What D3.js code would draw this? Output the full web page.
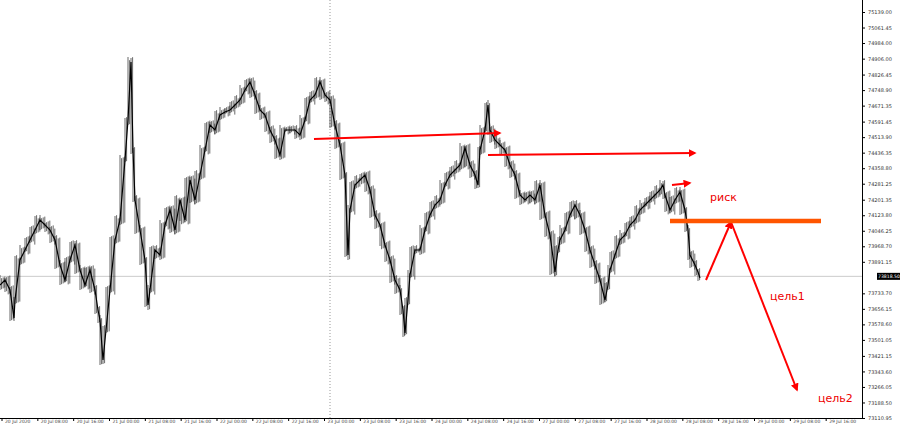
<!DOCTYPE html><html><head><meta charset="utf-8"><script src="https://cdn.jsdelivr.net/npm/d3@7"></script>
<style>body{margin:0;background:#fff}</style></head><body><svg id="c" width="900" height="424"></svg><script>
const pts=[[0,285],[5,280],[10,290],[14,318],[15,300],[20,260],[25,250],[30,240],[35,230],[40,220],[45,225],[50,230],[55,240],[60,265],[65,280],[70,260],[75,245],[80,270],[85,285],[90,270],[95,290],[98,310],[100,320],[103,360],[106,330],[110,290],[115,240],[120,220],[125,160],[128,120],[131,62],[133,150],[135,200],[140,230],[145,260],[148,305],[150,290],[155,250],[160,255],[165,225],[170,210],[175,230],[180,200],[185,220],[190,180],[195,200],[200,175],[205,150],[210,125],[215,130],[220,115],[225,112],[230,110],[235,105],[240,100],[245,90],[250,82],[255,95],[260,110],[265,115],[270,130],[275,140],[280,155],[285,130],[290,130],[295,130],[300,135],[305,120],[310,100],[315,95],[320,82],[325,95],[330,100],[335,125],[340,145],[345,175],[348,255],[350,210],[355,185],[360,180],[365,175],[370,190],[375,215],[380,225],[385,245],[390,260],[395,280],[400,290],[403,310],[405,333],[408,300],[410,275],[415,250],[420,250],[425,230],[430,215],[435,205],[440,200],[445,185],[450,175],[455,170],[460,165],[465,148],[470,165],[475,175],[478,185],[480,150],[485,130],[488,105],[490,130],[495,140],[500,145],[505,150],[510,165],[515,175],[520,195],[525,200],[530,195],[535,200],[540,185],[545,215],[550,235],[555,272],[558,250],[560,240],[565,230],[570,215],[575,205],[580,215],[585,230],[590,250],[595,265],[600,280],[605,300],[608,285],[610,270],[615,255],[620,240],[625,235],[630,225],[635,220],[640,210],[645,205],[650,200],[655,195],[660,190],[663,185],[665,195],[670,210],[675,200],[680,192],[685,210],[688,230],[690,255],[695,265],[698,272],[700,278]];
const yTicks=[75139.00,75061.45,74984.00,74906.00,74826.45,74748.90,74671.35,74591.45,74513.90,74436.35,74358.80,74281.25,74201.35,74123.80,74046.25,73968.70,73891.15,73733.70,73656.15,73578.60,73501.05,73421.15,73343.60,73266.05,73188.50,73110.95];
const xLabels=["20 Jul 2020","20 Jul 08:00","20 Jul 16:00","21 Jul 00:00","21 Jul 08:00","21 Jul 16:00","22 Jul 00:00","22 Jul 08:00","22 Jul 16:00","23 Jul 00:00","23 Jul 08:00","23 Jul 16:00","24 Jul 00:00","24 Jul 08:00","24 Jul 16:00","27 Jul 00:00","27 Jul 08:00","27 Jul 16:00","28 Jul 00:00","28 Jul 08:00","28 Jul 16:00","29 Jul 00:00","29 Jul 08:00","29 Jul 16:00"];
const current=73818.50;
const y=d3.scaleLinear().domain([75139,73110.95]).range([12,418]);
const x=d3.scaleLinear().domain([0,700]).range([0,700]);
const py=p=>y.invert(p);
const closes=pts.map(p=>[p[0],py(p[1])]);
const svg=d3.select("#c");
svg.append("line").attr("x1",0).attr("x2",862).attr("y1",y(current)).attr("y2",y(current)).attr("stroke","#ccc");
svg.append("line").attr("x1",x(330)).attr("x2",x(330)).attr("y1",0).attr("y2",418).attr("stroke","#999").attr("stroke-dasharray","1,2");
const g=svg.append("g");
for(let i=1;i<closes.length;i++){const a=closes[i-1],b=closes[i];
 const hi=Math.max(y(a[1]),y(b[1])),lo=Math.min(y(a[1]),y(b[1]));
 for(let k=x(a[0]);k<x(b[0]);k+=1.6){
  g.append("line").attr("x1",k).attr("x2",k).attr("y1",lo-5+((k*7)%4)).attr("y2",hi+5-((k*3)%4)).attr("stroke","#000").attr("stroke-width",0.6);}
}
g.append("path").datum(closes).attr("d",d3.line().x(d=>x(d[0])).y(d=>y(d[1]))).attr("fill","none").attr("stroke","#000").attr("stroke-width",1.2);
svg.append("line").attr("x1",862.5).attr("x2",862.5).attr("y1",0).attr("y2",418).attr("stroke","#000");
svg.append("line").attr("x1",0).attr("x2",862).attr("y1",418.5).attr("y2",418.5).attr("stroke","#000");
const ya=svg.append("g").attr("transform","translate(862,0)").call(d3.axisRight(y).tickValues(yTicks).tickSize(3).tickFormat(d3.format(".2f")));
ya.select(".domain").remove();ya.selectAll("text").attr("font-size",5).attr("font-family","DejaVu Sans").attr("fill","#333");
svg.append("rect").attr("x",877).attr("y",y(current)-3.5).attr("width",23).attr("height",7).attr("fill","#000");
svg.append("text").attr("x",878).attr("y",y(current)+2).attr("font-size",4.6).attr("font-family","DejaVu Sans").attr("fill","#fff").text(current.toFixed(2));
const xs=d3.scaleLinear().domain([0,xLabels.length]).range([2,862]);
xLabels.forEach((l,i)=>{svg.append("text").attr("x",xs(i)+3).attr("y",423).attr("font-size",4.5).attr("font-family","DejaVu Sans").attr("fill","#444").text(l);
 svg.append("line").attr("x1",xs(i)).attr("x2",xs(i)).attr("y1",418).attr("y2",421).attr("stroke","#000");});
const defs=svg.append("defs");
defs.append("marker").attr("id","ah").attr("viewBox","0 0 10 10").attr("refX",8).attr("refY",5).attr("markerWidth",4).attr("markerHeight",4).attr("orient","auto").append("path").attr("d","M0,0L10,5L0,10z").attr("fill","#f00");
const arrows=[[[314,py(139)],[500,py(133)]],[[488,py(155)],[695,py(153)]],[[672,py(185)],[690,py(183)]],[[706,py(280)],[731,py(222)]],[[731,py(222)],[797,py(390)]]];
arrows.forEach(a=>svg.append("line").attr("x1",x(a[0][0])).attr("y1",y(a[0][1])).attr("x2",x(a[1][0])).attr("y2",y(a[1][1])).attr("stroke","#f00").attr("stroke-width",2).attr("marker-end","url(#ah)"));
svg.append("line").attr("x1",x(670)).attr("x2",x(821)).attr("y1",y(py(221))).attr("y2",y(py(221))).attr("stroke","#f50").attr("stroke-width",4.5);
[["риск",710,201],["цель1",770,300],["цель2",818,402]].forEach(t=>svg.append("text").attr("x",x(t[1])).attr("y",y(py(t[2]))).attr("fill","#e00").attr("font-size",11).attr("font-family","DejaVu Sans").text(t[0]));
</script></body></html>
